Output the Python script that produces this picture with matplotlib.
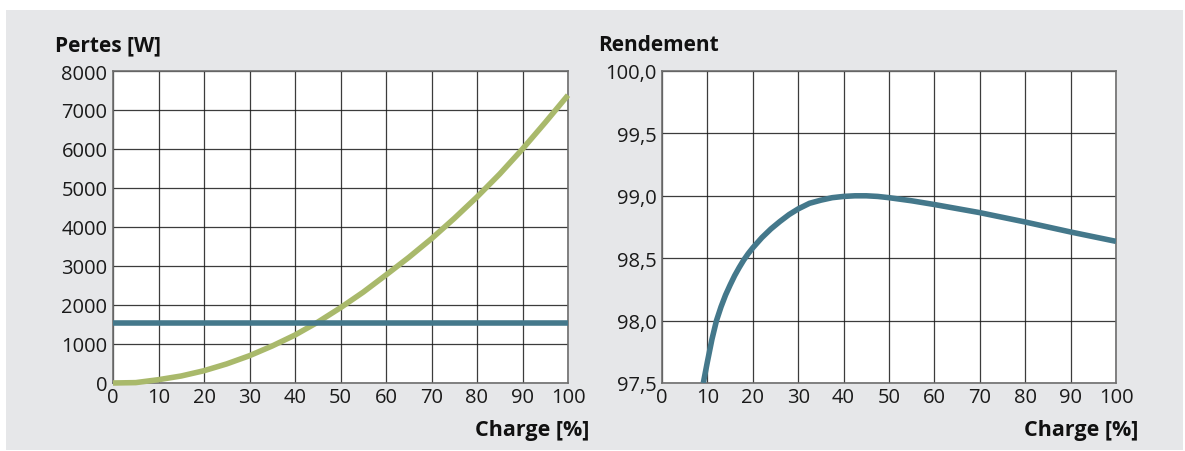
import matplotlib
matplotlib.use("Agg")
import matplotlib.pyplot as plt
from matplotlib.patches import Rectangle

plt.rcParams['font.family'] = ['Open Sans', 'DejaVu Sans']

# Data
charge_loss = [0, 5, 10, 15, 20, 25, 30, 35, 40, 45, 50, 55, 60, 65, 70, 75, 80, 85, 90, 95, 100]
losses_load = [0, 10, 85, 180, 315, 490, 700, 950, 1230, 1560, 1930, 2330, 2770, 3220, 3700, 4220,
               4770, 5360, 6000, 6680, 7380]
noload_x = [0, 100]
noload_loss = [1550, 1550]

charge_eff = [9.1, 10, 11, 12, 13, 14, 15, 16, 17, 18, 19, 20, 22, 24, 26, 28, 30, 32.5, 35, 37.5,
              40, 42.5, 45, 47.5, 50, 55, 60, 70, 80, 90, 100]
efficiency = [97.5, 97.67, 97.85, 98.0, 98.11, 98.205, 98.285, 98.36, 98.425, 98.485, 98.537, 98.583,
              98.665, 98.735, 98.795, 98.85, 98.895, 98.94, 98.965, 98.985, 98.995, 99.0, 99.0,
              98.995, 98.985, 98.96, 98.93, 98.865, 98.79, 98.71, 98.635]

x_ticks = list(range(0, 101, 10))
loss_ticks = list(range(0, 8001, 1000))
eff_ticks = [97.5, 98.0, 98.5, 99.0, 99.5, 100.0]
eff_labels = ['97,5', '98,0', '98,5', '99,0', '99,5', '100,0']

W, H = 1185, 452
fig = plt.figure(figsize=(W / 100, H / 100), dpi=100, facecolor='white')
fig.patches.append(Rectangle((6 / W, 1 - 451 / H), (1183 - 6) / W, (451 - 11) / H,
                             transform=fig.transFigure, facecolor='#e6e7e9', edgecolor='none', zorder=-10))

def make_axes(x0, x1, y0, y1):
    return fig.add_axes([x0 / W, 1 - y1 / H, (x1 - x0) / W, (y1 - y0) / H], zorder=1)

green = '#a9b96b'
blue = '#44788b'
grid_c = '#1a1a1a'
tick_fs = 14.5

def style(ax):
    ax.set_facecolor('white')
    ax.set_xlim(0, 100)
    ax.set_xticks(x_ticks)
    ax.grid(True, color=grid_c, linewidth=0.9, alpha=0.85)
    ax.set_axisbelow(True)
    for s in ax.spines.values():
        s.set_color('#6e6e6e')
        s.set_linewidth(1.2)
    ax.tick_params(length=0, labelsize=tick_fs, colors='#1a1a1a', pad=4)
    ax.tick_params(axis='x', pad=3)

ax1 = make_axes(113, 568, 72, 384)
style(ax1)
ax1.set_ylim(0, 8000)
ax1.set_yticks(loss_ticks)
ax1.set_yticklabels([str(v) for v in loss_ticks])
ax1.plot(charge_loss, losses_load, color=green, linewidth=4.0, solid_capstyle='butt',
         solid_joinstyle='round', clip_on=False, zorder=3)
ax1.plot(noload_x, noload_loss, color=blue, linewidth=4.0, solid_capstyle='butt', clip_on=False, zorder=3)

ax2 = make_axes(662, 1116, 72, 384)
style(ax2)
ax2.set_ylim(97.5, 100.0)
ax2.set_yticks(eff_ticks)
ax2.set_yticklabels(eff_labels)
ax2.plot(charge_eff, efficiency, color=blue, linewidth=4.0, solid_capstyle='butt',
         solid_joinstyle='round', clip_on=True, zorder=3)

title_kw = dict(fontsize=15, fontweight='bold', va='baseline', color='#111111')
fig.text(55 / W, 1 - 51 / H, 'Pertes [W]', ha='left', **title_kw)
fig.text(598 / W, 1 - 51 / H, 'Rendement', ha='left', **title_kw)
xl_kw = dict(fontsize=15.5, fontweight='bold', va='baseline', ha='right', color='#111111')
fig.text(589 / W, 1 - 436 / H, 'Charge [%]', **xl_kw)
fig.text(1138 / W, 1 - 436 / H, 'Charge [%]', **xl_kw)

fig.savefig('out.png', dpi=100, facecolor='white')
